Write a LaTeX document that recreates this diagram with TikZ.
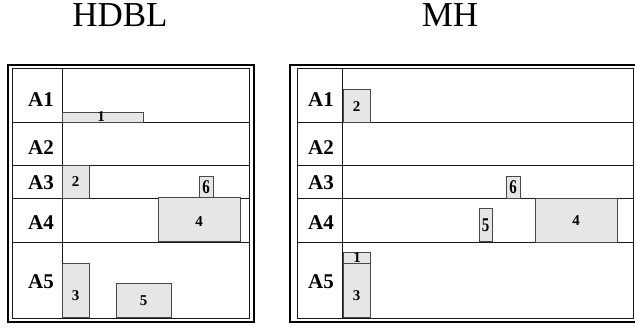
\documentclass[tikz,border=0pt]{standalone}
\usepackage{fontspec}
\setmainfont{Liberation Serif}
\usepackage{tikz}
\usetikzlibrary{positioning}
\definecolor{blockGray}{HTML}{E6E6E6}
\definecolor{frameInk}{HTML}{1A1A1A}
\newcommand{\titlefont}{\fontsize{35}{35}\selectfont}
\newcommand{\rowfont}{\fontsize{21}{21}\selectfont\bfseries}
\newcommand{\numfont}{\fontsize{15}{15}\selectfont\bfseries}
\newcommand{\tallnum}[1]{\scalebox{1}[1.3]{#1}}

\begin{document}
\begin{tikzpicture}[x=1pt,y=-1pt,
  title/.style={font=\titlefont,inner sep=0pt},
  rowlab/.style={font=\rowfont,inner sep=0pt},
  num/.style={font=\numfont,inner sep=0pt},
  blk/.style={draw=frameInk!80,fill=blockGray,line width=0.7pt},
  outer/.style={draw=black,line width=1.8pt},
  inner/.style={draw=frameInk,line width=0.8pt}
]
  \useasboundingbox (0,0) rectangle (635,330);

  \node[title] (tHDBL) at (120,15) {HDBL};
  \node[title] (tMH) at (450,15) {MH};

  % the two frames with their rows
  \foreach \p/\lo/\li/\sep/\ri/\ro in {h/8/12/62/249/254,m/290/297/342/633/639} {
    \draw[outer] (\lo,65) rectangle (\ro,322);
    \draw[inner] (\li,68) rectangle (\ri,318);
    \draw[inner] (\sep,68) -- (\sep,318);
    \foreach \y in {122,165,198,242}
      \draw[inner] (\li,\y) -- (\ri,\y);
    \foreach \y/\lab in {100/A1,148/A2,183/A3,223/A4,282/A5}
      \node[rowlab] (\p\lab) at (\sep-21,\y) {\lab};
  }

  % HDBL blocks
  \foreach \n/\xa/\ya/\xb/\yb/\lx/\ly/\t in {
      h1/62/112/143/122/101/117/1,
      h2/62/165/89/198/75.5/182/2,
      h6/199/176/213/198/206/187/{\tallnum{6}},
      h4/158/197/240/241/199/222/4,
      h3/62/263/89/317/75.5/296/3,
      h5/116/283/171/317/143.5/301/5} {
    \draw[blk] (\xa,\ya) rectangle (\xb,\yb);
    \node[num] (\n) at (\lx,\ly) {\t};
  }

  % MH blocks
  \foreach \n/\xa/\ya/\xb/\yb/\lx/\ly/\t in {
      m2/343/89/370/122/356.5/107/2,
      m6/506/176/520/198/513/187/{\tallnum{6}},
      m5/479/208/492/241/485.5/225/{\tallnum{5}},
      m4/535/198/617/242/576/221/4,
      m1/343/252/370/263/357/257.5/1,
      m3/343/263/370/317/356.5/296/3} {
    \draw[blk] (\xa,\ya) rectangle (\xb,\yb);
    \node[num] (\n) at (\lx,\ly) {\t};
  }
\end{tikzpicture}
\end{document}
